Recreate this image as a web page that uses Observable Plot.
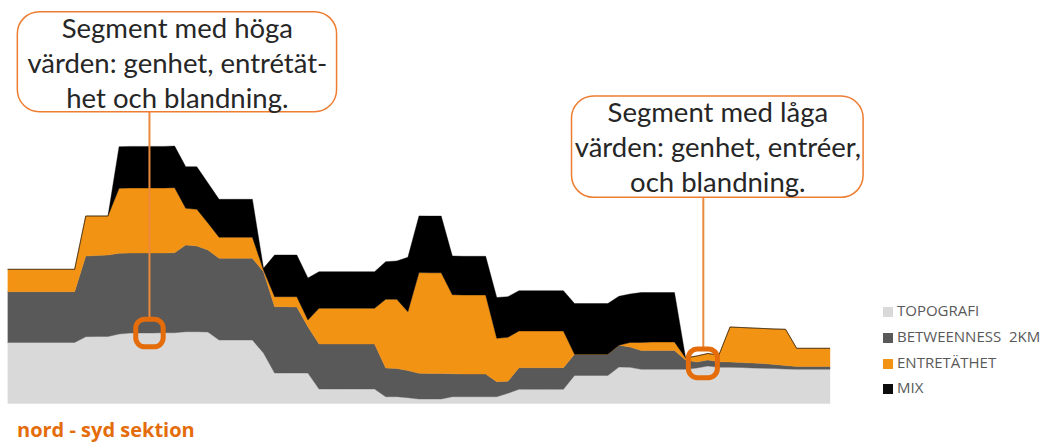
<!DOCTYPE html>
<html><head><meta charset="utf-8">
<script src="https://cdn.jsdelivr.net/npm/d3@7"></script>
<script src="https://cdn.jsdelivr.net/npm/@observablehq/plot@0.6"></script>
<style>
body{margin:0;background:#fff;}
#wrap{position:relative;width:1053px;height:446px;overflow:hidden;}
#legend{position:absolute;left:883px;top:300px;font-family:"Open Sans",sans-serif;font-size:15px;color:#595959;}
#legend .row{position:absolute;left:0;white-space:pre;height:20px;line-height:20px;}
#legend .sw{display:inline-block;width:10px;height:10px;margin-right:4px;vertical-align:-1px;}
#caption{position:absolute;left:17px;top:418px;font-family:"Open Sans",sans-serif;font-weight:bold;font-size:20px;line-height:24px;color:#E46C0A;}
</style></head><body>
<div id="wrap"><div id="chart"></div><div id="legend"></div><div id="caption">nord - syd sektion</div></div>
<script>
const sections = Array.from({length: 75}, (_, i) => i);
const series = ["TOPOGRAFI", "BETWEENNESS  2KM", "ENTRETÄTHET", "MIX"];
const colors = ["#D9D9D9", "#595959", "#F39314", "#000000"];
const legendColors = ["#D9D9D9", "#595959", "#F39314", "#0D0D0D"];

const topografi = [61,61,61,61,61,61,61,66.8,67,67,69.5,70.5,70.5,70.5,70.8,70.8,71.8,71.8,71.5,63.5,63.5,63.5,63.5,50.5,30.5,30.5,30.5,30.5,14.5,14.5,14.5,14.5,14.5,14.5,6.8,6.8,5.8,4.5,4.5,4.5,6.8,6.8,6.8,6.8,6.8,10.2,14.2,14.2,14.2,14.2,14.2,28,28,28,28,36.5,36.2,34.2,34.2,34.2,34.2,34.2,35.5,37.5,36.2,36.2,36,35.5,35.2,35,34.5,34.2,34.2,34.2,34.2];
const betweenness = [50.8,50.8,50.8,50.8,50.8,50.8,50.8,80.7,81,81.5,80.7,80,80,80,79.7,80,86.7,85.7,82,81.7,81.7,81.7,81.7,81.3,66.3,66.3,66,46.3,45,45,45,45,45,45,28.7,28.2,27.2,25.7,25.5,25.5,23,22.7,22.7,22.7,15,12,21.6,21.6,21.6,21.6,21.6,21.2,21.2,21.2,21.2,21.7,20.3,18.8,18.8,18.8,18.8,9.3,6,6,5.6,5.3,5,5,4.8,4,3.5,2.8,2.8,2.8,2.8];
const entretathet = [22.4,22.4,22.4,22.4,22.4,22.4,22.4,40,39.5,39,65,65,65,65,65,65,36.7,36.7,27,21,21,21,21,1.7,10,10,10.3,6.7,35.7,35.7,35.7,35.7,35.7,35.7,68.7,69.2,58.8,100.7,100.7,100.7,79,79,79,79,43.4,44,36.7,36.7,36.7,36.7,36.7,0,0,0,0,0,4.5,8,8.5,8.5,8.5,2,6,6.5,6.7,35,35,35,35,35.5,36.2,18.2,18.2,18.2,18.2];
const mix = [0,0,0,0,0,0,0,0,0,0,41.6,41.6,41.6,41.6,41.6,41.6,41.6,42.6,40,38,38,38,38,1.7,41.7,41.7,41.7,42,36.6,36.6,36.6,36.6,36.6,36.6,37.6,38.3,54.4,56.7,56.7,56.7,38.7,38.7,38.7,38.7,40.8,40.6,40.3,40.3,40.3,40.3,40.3,50.8,50.8,50.8,50.8,49,48.5,50,49.5,49.5,49.5,0,0,0,0,0,0,0,0,0,0,0,0,0,0];

const rows = [];
[topografi, betweenness, entretathet, mix].forEach((vals, s) =>
  vals.forEach((v, i) => rows.push({section: sections[i], series: series[s], value: v})));

const callouts = [
  {label: "Segment med höga\nvärden: genhet, entrétät-\nhet och blandning.",
   x1: 0.84, x2: 29.58, y1: 291.8, y2: 391.8, tx: 15.2, ty: 342.5,
   px: 12.69, py1: 84.3, py2: 291.8, mx1: 11.5, mx2: 13.97, my1: 56.7, my2: 84.3},
  {label: "Segment med låga\nvärden: genhet, entréer,\noch blandning.",
   x1: 50.73, x2: 76.98, y1: 206.2, y2: 307.5, tx: 63.86, ty: 258.5,
   px: 62.55, py1: 54.5, py2: 206.2, mx1: 61.25, mx2: 63.86, my1: 25.8, my2: 54.5}
];

const chart = Plot.plot({
  width: 1053, height: 412,
  marginLeft: 8, marginRight: 223, marginTop: 0, marginBottom: 8.5,
  x: {domain: [0, 74], axis: null},
  y: {domain: [0, 403.5], axis: null},
  color: {domain: series, range: colors},
  marks: [
    Plot.areaY(rows, {x: "section", y: "value", z: "series", fill: "series", stroke: "series", strokeWidth: 0.4, curve: "linear"}),
    Plot.ruleX(callouts, {x: "px", y1: "py1", y2: "py2", stroke: "#EC8A3C", strokeWidth: 2}),
    Plot.rect(callouts, {x1: "x1", x2: "x2", y1: "y1", y2: "y2", rx: 22, fill: "white", stroke: "#ED7D31", strokeWidth: 1.5}),
    Plot.text(callouts, {x: "tx", y: "ty", text: "label", fontSize: 27.5, lineHeight: 1.27, fill: "#262626", fontFamily: "Lato, sans-serif"}),
    Plot.rect(callouts, {x1: "mx1", x2: "mx2", y1: "my1", y2: "my2", rx: 9, fill: "none", stroke: "#E46C0A", strokeWidth: 5})
  ]
});
document.getElementById("chart").appendChild(chart);

const legend = document.getElementById("legend");
series.forEach((s, i) => {
  const row = document.createElement("div");
  row.className = "row";
  row.style.top = (i * 25.8) + "px";
  const sw = document.createElement("span");
  sw.className = "sw";
  sw.style.background = legendColors[i];
  row.appendChild(sw);
  row.appendChild(document.createTextNode(s));
  legend.appendChild(row);
});
</script>
</body></html>
